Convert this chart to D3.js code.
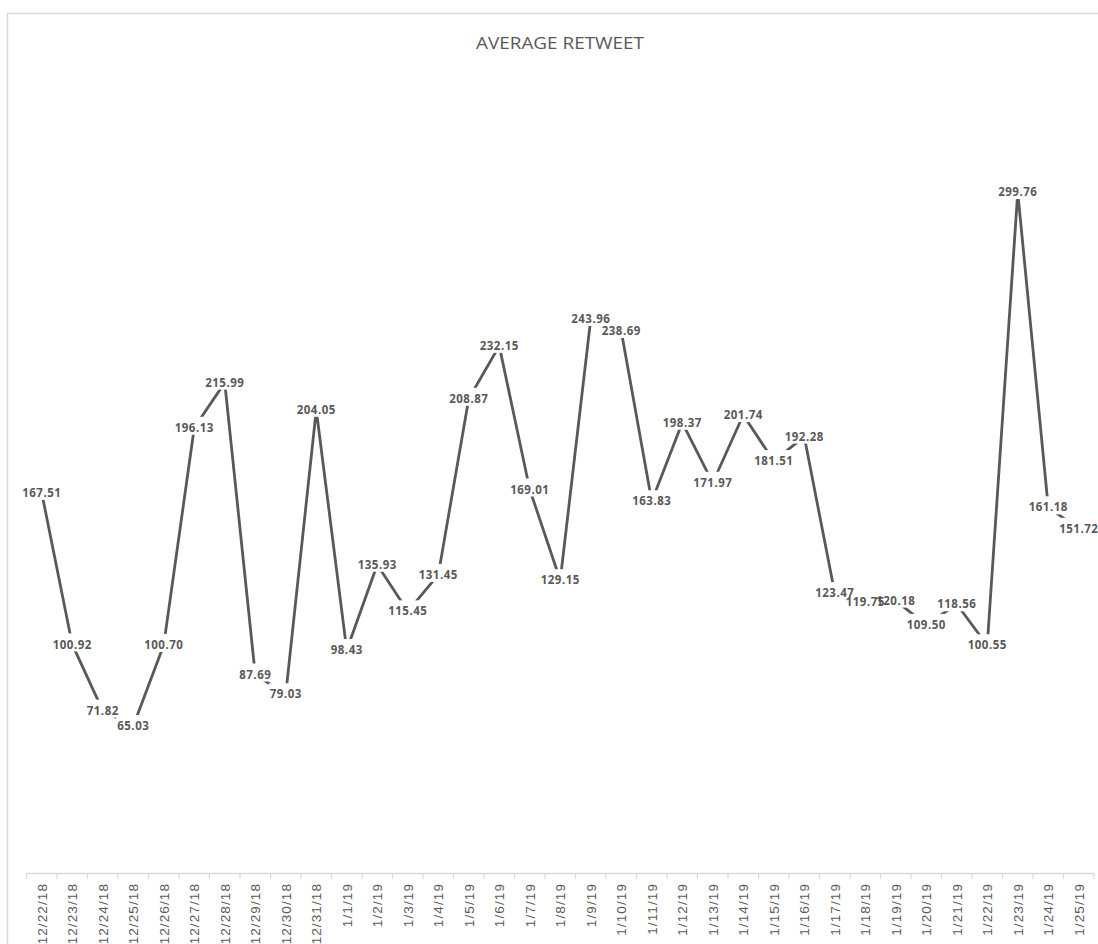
<!DOCTYPE html>
<html>
<head>
<meta charset="utf-8">
<script src="https://cdn.jsdelivr.net/npm/d3@7"></script>
<style>
  html, body { margin: 0; padding: 0; background: #ffffff; }
  svg { display: block; }
</style>
</head>
<body>
<svg id="chart" width="1098" height="944"></svg>
<script>
// Daily dates shown on the category axis
const dates = [
  "12/22/18", "12/23/18", "12/24/18", "12/25/18", "12/26/18", "12/27/18", "12/28/18",
  "12/29/18", "12/30/18", "12/31/18", "1/1/19", "1/2/19", "1/3/19", "1/4/19",
  "1/5/19", "1/6/19", "1/7/19", "1/8/19", "1/9/19", "1/10/19", "1/11/19",
  "1/12/19", "1/13/19", "1/14/19", "1/15/19", "1/16/19", "1/17/19", "1/18/19",
  "1/19/19", "1/20/19", "1/21/19", "1/22/19", "1/23/19", "1/24/19", "1/25/19"
];

// Average retweets per day
const avgRetweet = [
  167.51, 100.92, 71.82, 65.03, 100.70, 196.13, 215.99,
  87.69, 79.03, 204.05, 98.43, 135.93, 115.45, 131.45,
  208.87, 232.15, 169.01, 129.15, 243.96, 238.69, 163.83,
  198.37, 171.97, 201.74, 181.51, 192.28, 123.47, 119.75,
  120.18, 109.50, 118.56, 100.55, 299.76, 161.18, 151.72
];

const titleText = "AVERAGE RETWEET";
const yDomain = [0, 350];

const W = 1098, H = 944;
const plot = { left: 26.5, right: 1094, top: 77.75, bottom: 874 };
const ink = "#595959";
const gridGrey = "#d9d9d9";

const svg = d3.select("#chart");

// chart area frame
svg.append("rect")
  .attr("x", 7.5).attr("y", 13.5)
  .attr("width", W + 20).attr("height", H + 20)
  .attr("fill", "#ffffff")
  .attr("stroke", gridGrey).attr("stroke-width", 1.5);

// title
svg.append("text")
  .attr("x", 560).attr("y", 48.5)
  .attr("text-anchor", "middle")
  .attr("font-family", "'Open Sans', 'Noto Sans', sans-serif")
  .attr("font-weight", 400)
  .attr("font-size", 16.5)
  .attr("fill", ink)
  .attr("textLength", 168)
  .attr("lengthAdjust", "spacingAndGlyphs")
  .text(titleText);

const data = dates.map((d, i) => ({ date: d, value: avgRetweet[i] }));

const x = d3.scaleBand().domain(dates).range([plot.left, plot.right]).padding(0);
const y = d3.scaleLinear().domain(yDomain).range([plot.bottom, plot.top]);
const cx = d => x(d) + x.bandwidth() / 2;

// category axis
const axisY = plot.bottom - 0.5;
const axis = d3.axisBottom(x).tickSize(0).tickFormat(d => d);
const axisG = svg.append("g")
  .attr("transform", `translate(0,${axisY})`)
  .call(axis);
axisG.select(".domain").remove();
axisG.selectAll(".tick text")
  .attr("font-family", "'Liberation Sans', Arial, sans-serif")
  .attr("font-size", 13.5)
  .attr("letter-spacing", "1.1px")
  .attr("fill", ink)
  .attr("text-anchor", "end")
  .attr("transform", "translate(0,9.5) rotate(-90)")
  .attr("x", 0)
  .attr("y", 0)
  .attr("dy", "0.36em");

svg.append("line")
  .attr("x1", plot.left).attr("x2", plot.right)
  .attr("y1", axisY).attr("y2", axisY)
  .attr("stroke", gridGrey).attr("stroke-width", 1.5);

// tick marks sit on the category boundaries
const edges = dates.map(d => x(d)).concat([x(dates[dates.length - 1]) + x.bandwidth()]);
svg.append("g").selectAll("line")
  .data(edges)
  .join("line")
  .attr("x1", d => d).attr("x2", d => d)
  .attr("y1", axisY).attr("y2", axisY + 5.5)
  .attr("stroke", gridGrey).attr("stroke-width", 1.2);

// series line
const line = d3.line()
  .x(d => cx(d.date))
  .y(d => y(d.value));

svg.append("path")
  .datum(data)
  .attr("d", line)
  .attr("fill", "none")
  .attr("stroke", ink)
  .attr("stroke-width", 2.8)
  .attr("stroke-linejoin", "round");

// data labels centred on each point, on a white plate
const labelG = svg.append("g");
const plates = labelG.append("g");
const texts = labelG.append("g");

const labelTexts = texts.selectAll("text")
  .data(data)
  .join("text")
  .attr("x", d => cx(d.date))
  .attr("y", d => y(d.value))
  .attr("dy", "0.36em")
  .attr("text-anchor", "middle")
  .attr("font-family", "'Open Sans', 'Noto Sans', sans-serif")
  .attr("font-weight", 700)
  .attr("font-size", 11.5)
  .attr("letter-spacing", "0.5px")
  .attr("fill", ink)
  .text(d => d.value.toFixed(2));

labelTexts.each(function (d) {
  const w = this.getComputedTextLength() + 2;
  plates.append("rect")
    .attr("x", cx(d.date) - w / 2)
    .attr("y", y(d.value) - 11)
    .attr("width", w)
    .attr("height", 18)
    .attr("fill", "#ffffff");
});
</script>
</body>
</html>
